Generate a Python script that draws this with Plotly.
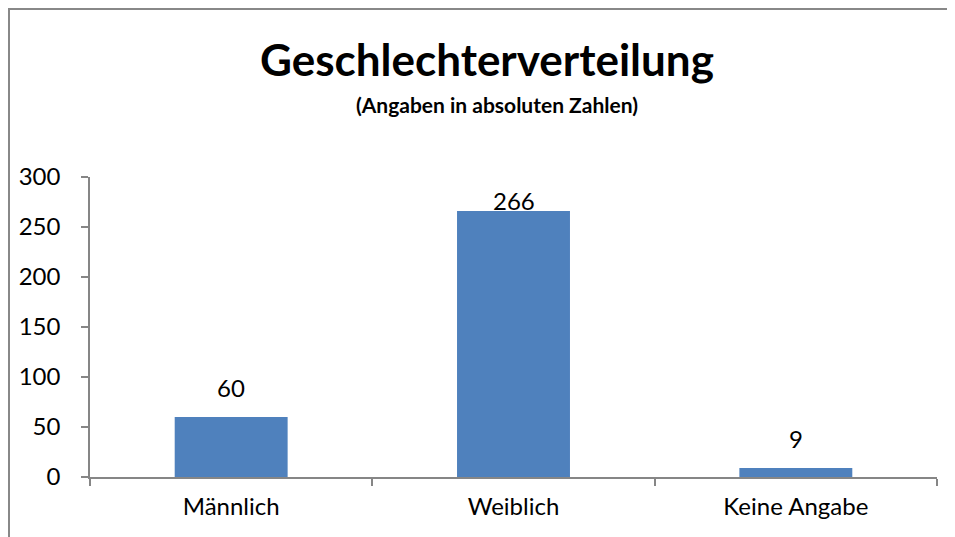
import plotly.graph_objects as go

categories = ["Männlich", "Weiblich", "Keine Angabe"]
values = [60, 266, 9]
y_ticks = [0, 50, 100, 150, 200, 250, 300]

title_text = "Geschlechterverteilung"
subtitle_text = "(Angaben in absoluten Zahlen)"

FONT = "Lato"
AXIS_COLOR = "#868686"
BAR_COLOR = "#4F81BD"
Y_MAX = 300

fig = go.Figure()
fig.add_trace(go.Bar(x=categories, y=values, marker=dict(color=BAR_COLOR, line=dict(width=0)),
                     hoverinfo="x+y"))

for c, v in zip(categories, values):
    shift = min(30, (Y_MAX - v) - 23)
    fig.add_annotation(x=c, y=v, xref="x", yref="y", text=str(v), showarrow=False,
                       yanchor="middle", yshift=shift,
                       font=dict(family=FONT, size=24, color="#000000"))

fig.add_annotation(x=0.469, y=1, xref="paper", yref="paper", text="<b>" + title_text + "</b>",
                   showarrow=False, xanchor="center", yanchor="middle", yshift=118,
                   font=dict(family=FONT, size=44, color="#000000"))
fig.add_annotation(x=0.4805, y=1, xref="paper", yref="paper", text="<b>" + subtitle_text + "</b>",
                   showarrow=False, xanchor="center", yanchor="middle", yshift=73,
                   font=dict(family=FONT, size=21, color="#000000"))

# chart border (Excel chart area), left and top edges visible
fig.add_shape(type="rect", xref="paper", yref="paper",
              x0=-81/847, x1=1 + 40/847, y0=-1.0, y1=1 + 168/300,
              line=dict(color="#888888", width=2), fillcolor="rgba(0,0,0,0)")

fig.update_layout(
    width=947, height=529,
    margin=dict(l=82, r=18, t=169, b=60),
    paper_bgcolor="white", plot_bgcolor="white",
    bargap=0.6,
    showlegend=False,
    font=dict(family=FONT, size=24, color="#000000"),
)
fig.update_xaxes(showline=True, linecolor=AXIS_COLOR, linewidth=1.5, ticks="outside",
                 tickson="boundaries", ticklen=7, tickcolor=AXIS_COLOR, tickwidth=1.5,
                 showgrid=False, tickfont=dict(family=FONT, size=24), ticklabelstandoff=7)
fig.update_yaxes(range=[0, Y_MAX], tickvals=y_ticks, showline=True, linecolor=AXIS_COLOR,
                 linewidth=1.5, ticks="outside", ticklen=7, tickcolor=AXIS_COLOR, tickwidth=1.5,
                 showgrid=False, zeroline=False, tickfont=dict(family=FONT, size=24),
                 ticklabelstandoff=16)

fig.write_html("out.html")
